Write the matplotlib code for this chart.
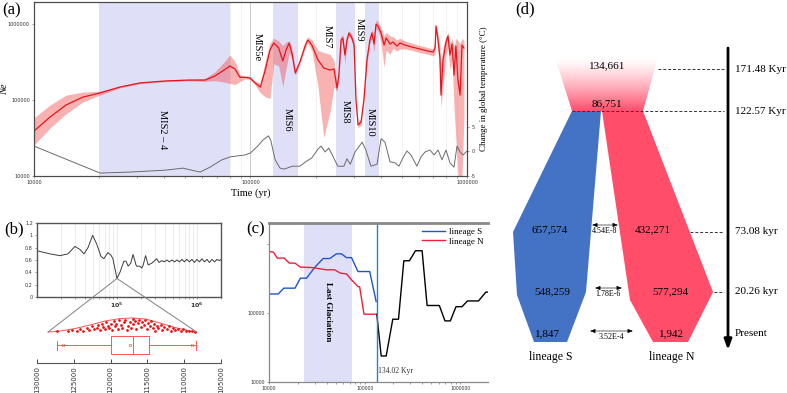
import matplotlib
matplotlib.use('Agg')
import matplotlib.pyplot as plt
import numpy as np
from matplotlib.patches import Polygon, ConnectionPatch
from matplotlib.ticker import NullFormatter

SERIF = 'Liberation Serif'

# ----- (a) Ne through time + global temperature -----------------------------
a_time = [10000, 11860, 14050, 16800, 20200, 24900, 30900, 40300, 51400, 61600,
          68500, 75500, 80400, 84800, 89400, 94300, 99500, 105000, 111000, 117000,
          123000, 128000, 135000, 141000, 146000, 151000, 156000, 161000, 169000, 180000,
          184000, 192000, 205000, 218000, 233000, 243000, 251000, 256000, 262000, 267000,
          273000, 279000, 285000, 294000, 301000, 307000, 314000, 324000, 334000, 345000,
          356000, 364000, 372000, 380000, 388000, 401000, 414000, 423000, 441000, 455000,
          475000, 490000, 517000, 557000, 607000, 661000, 697000, 712000, 719000, 735000,
          750000, 758000, 775000, 800000, 817000, 834000, 853000, 871000, 889000, 908000,
          929000, 948000, 968000]
a_ne = [39100, 59700, 85900, 109000, 124000, 148000, 168000, 178000, 183000, 183000,
        207000, 248000, 280000, 256000, 199000, 199000, 195000, 168000, 148000, 248000,
        455000, 563000, 483000, 326000, 455000, 563000, 391000, 227000, 316000, 546000,
        617000, 529000, 336000, 264000, 248000, 256000, 144000, 213000, 617000, 655000,
        391000, 617000, 762000, 655000, 529000, 100000, 46900, 51300, 100000, 336000,
        617000, 762000, 546000, 1000000, 942000, 762000, 529000, 655000, 546000, 580000,
        513000, 563000, 529000, 498000, 469000, 441000, 428000, 483000, 942000, 617000,
        357000, 116000, 336000, 580000, 695000, 391000, 546000, 213000, 513000, 183000,
        116000, 529000, 483000]
a_ne_lo = [25600, 42800, 65500, 94200, 116000, 144000, 164000, 174000, 179000, 176000,
           180000, 172000, 165000, 160000, 175000, 190000, 186000, 158000, 125000, 110000,
           105000, 300000, 280000, 150000, 260000, 420000, 330000, 210000, 295000, 500000,
           560000, 450000, 150000, 32000, 70000, 150000, 130000, 190000, 540000, 580000,
           300000, 560000, 700000, 600000, 470000, 85000, 43000, 46000, 90000, 300000,
           560000, 650000, 420000, 880000, 800000, 560000, 270000, 450000, 400000, 480000,
           440000, 470000, 470000, 450000, 420000, 400000, 380000, 400000, 800000, 450000,
           200000, 80000, 150000, 400000, 500000, 250000, 350000, 80000, 30000, 10000,
           10000, 10000, 60000]
a_ne_hi = [58000, 85900, 116000, 127000, 131000, 152000, 172000, 182000, 187000, 192000,
           235000, 316000, 391000, 320000, 215000, 208000, 204000, 178000, 165000, 330000,
           560000, 650000, 600000, 520000, 580000, 600000, 450000, 245000, 340000, 600000,
           680000, 620000, 450000, 420000, 400000, 330000, 160000, 240000, 700000, 720000,
           450000, 680000, 820000, 720000, 600000, 120000, 51000, 57000, 112000, 380000,
           680000, 850000, 640000, 1130000, 1080000, 900000, 700000, 780000, 700000, 680000,
           620000, 650000, 600000, 560000, 520000, 490000, 470000, 600000, 1000000, 750000,
           500000, 300000, 500000, 680000, 780000, 560000, 650000, 500000, 650000, 600000,
           550000, 650000, 600000]

temp_time = [10000, 20200, 27700, 40600, 48700, 58500, 65000, 73800, 80600, 94300,
             100000, 108000, 114000, 121000, 124000, 130000, 137000, 143000, 156000, 169000,
             180000, 192000, 205000, 212000, 221000, 230000, 241000, 253000, 270000, 279000,
             289000, 304000, 328000, 341000, 360000, 384000, 401000, 418000, 441000, 465000,
             485000, 506000, 528000, 551000, 587000, 613000, 640000, 675000, 704000, 735000,
             767000, 800000, 834000, 871000, 899000, 929000, 959000, 1000000]
temp_change = [1.1, -4.4, -4.2, -3.8, -3.4, -4.2, -3.2, -1.7, -1.1, -0.7,
               -0.3, 1.1, 2.3, 3.2, 2.3, -1.7, -3.4, -3.6, -3.0, -3.0,
               -2.1, -1.3, 0.5, 1.1, -0.1, 0.7, -1.1, -3.0, -3.0, -1.5,
               -2.6, -0.1, 1.9, 0.3, -3.0, -2.6, 2.6, 1.9, -2.1, -2.3,
               -3.0, -1.3, 0.1, -0.7, -3.0, -1.1, -0.1, 0.3, -0.7, 0.3,
               -1.7, 0.3, -2.3, -3.2, 1.1, -0.1, -0.7, 0.1]

mis_start = [20000, 127000, 248000, 338000]
mis_end = [80000, 165000, 304000, 392000]
mis_labels = ['MIS2 \u2013 4', 'MIS5e', 'MIS6', 'MIS7', 'MIS8', 'MIS9', 'MIS10']

# ----- (b) zoomed split-time distribution ------------------------------------
b_time = [10000, 14500, 19400, 24400, 29800, 34500, 38700, 43400, 49700, 56200,
          63000, 68600, 77000, 84000, 89000, 100000, 109000, 122000, 130000, 138000,
          149000, 159000, 168000, 175000, 193000, 205000, 213000, 228000, 246000, 274000,
          314000, 335000, 365000, 390000, 422000, 452000, 487000, 523000, 562000, 604000,
          649000, 698000, 750000, 806000, 866000, 931000, 1000000, 1075000, 1155000, 1240000,
          1334000, 1433000, 1540000, 1660000, 1780000, 1910000, 2000000]
b_value = [0.75, 0.70, 0.67, 0.70, 0.82, 0.77, 0.70, 0.80, 1.00, 0.85,
           0.66, 0.62, 0.72, 0.68, 0.62, 0.30, 0.40, 0.58, 0.58, 0.50,
           0.55, 0.69, 0.58, 0.50, 0.50, 0.47, 0.52, 0.67, 0.52, 0.55,
           0.62, 0.56, 0.59, 0.57, 0.60, 0.57, 0.60, 0.57, 0.60, 0.57,
           0.61, 0.57, 0.61, 0.57, 0.61, 0.56, 0.61, 0.57, 0.62, 0.57,
           0.61, 0.56, 0.61, 0.57, 0.61, 0.59, 0.61]

dens_years = [128500, 126900, 124800, 122800, 120760, 118700, 117100, 115300, 113300,
              111250, 109200, 108300]
dens_height = [0.534, 0.55, 0.595, 0.655, 0.724, 0.767, 0.776, 0.759, 0.69, 0.612, 0.552, 0.534]

dots_years = [127300, 125800, 125200, 124600, 124100, 123700, 123200, 122900, 122500, 122200,
              121900, 121700, 121500, 121200, 121000, 120800, 120600, 120400, 120200, 120000,
              119800, 119600, 119400, 119200, 119000, 118800, 118600, 118400, 118200, 118000,
              117800, 117600, 117400, 117200, 117000, 116900, 116700, 116500, 116300, 116100,
              115900, 115700, 115500, 115300, 115100, 114900, 114700, 114500, 114300, 114100,
              113900, 113700, 113500, 113200, 113000, 112700, 112400, 112100, 111800, 111500,
              111200, 110900, 110500, 110100, 109700, 109300, 108900, 108500]
dots_height = [0.545, 0.56, 0.57, 0.56, 0.59, 0.56, 0.60, 0.57, 0.63, 0.59,
               0.61, 0.65, 0.57, 0.68, 0.62, 0.58, 0.70, 0.64, 0.60, 0.67,
               0.57, 0.72, 0.63, 0.68, 0.59, 0.74, 0.66, 0.61, 0.70, 0.75,
               0.57, 0.64, 0.71, 0.60, 0.76, 0.67, 0.73, 0.58, 0.69, 0.75,
               0.62, 0.70, 0.66, 0.74, 0.58, 0.69, 0.63, 0.72, 0.60, 0.67,
               0.56, 0.64, 0.60, 0.66, 0.57, 0.62, 0.59, 0.63, 0.56, 0.60,
               0.57, 0.59, 0.56, 0.58, 0.55, 0.56, 0.545, 0.54]

box_stats = dict(med=117000, q1=114780, q3=119950, whislo=108400, whishi=127300,
                 mean=117400, fliers=[108900, 126500])
b_ticks = [130000, 125000, 120000, 115000, 110000, 105000]

# ----- (c) lineage step curves ------------------------------------------------
s_time = [10000, 12500, 14300, 18700, 21300, 24700, 30200, 36800, 43200, 50700,
          57100, 64600, 72900, 85200, 113000, 132000]
s_ne = [188000, 188000, 228000, 228000, 318000, 318000, 459000, 612000, 612000, 716000,
        716000, 631000, 631000, 397000, 397000, 146000]
n_time = [10000, 11100, 12200, 14400, 16300, 18700, 21300, 27800, 34000, 39800,
          48600, 55800, 64600, 72900, 85200, 88600, 98500, 130000]
n_ne = [773000, 758000, 621000, 621000, 525000, 525000, 459000, 454000, 435000, 420000,
        420000, 376000, 367000, 301000, 240000, 240000, 95700, 95700]
anc_time = [134020, 149000, 168000, 197000, 226000, 257000, 294000, 340000, 399000, 450000,
            604000, 692000, 787000, 902000, 1042000, 1191000, 1552000, 1853000, 1950000]
anc_ne = [95700, 23800, 23800, 81000, 81000, 568000, 568000, 793000, 793000, 128000,
          128000, 76600, 76600, 123000, 123000, 149000, 149000, 200000, 200000]
split_time = 134020
glaciation = (23000, 73000)

# ----- (d) demographic model (schematic) ---------------------------------------
d_levels = ['171.48 Kyr', '122.57 Kyr', '73.08 kyr', '20.26 kyr', 'Present']
d_ne_anc = ['134,661', '86,751']
d_ne_S = ['657,574', '548,259', '1,847']
d_ne_N = ['432,271', '577,294', '1,942']
d_mig = ['4.54E-8', '1.78E-6', '3.52E-4']

W, H = 787, 393
fig = plt.figure(figsize=(7.87, 3.93), dpi=100)


def box(l, t, r, b):
    return [l / W, 1 - b / H, (r - l) / W, (b - t) / H]


def tiny_ticks(ax, size=3.5):
    ax.tick_params(which='both', labelsize=size, labelcolor='#333333', length=1.5,
                   width=0.4, pad=1.5, color='#555555')


# ================= (a) =================
ax = fig.add_axes(box(34, 2, 467, 176))
ax.set_xscale('log')
ax.set_yscale('log')
for s, e in zip(mis_start, mis_end):
    ax.axvspan(s, e, color='#dfdff8', lw=0, zorder=1)
ax.grid(which='major', axis='x', color='#c4c4c4', lw=0.6)
ax.grid(which='minor', axis='x', color='#ededed', lw=0.5)
ax.set_axisbelow(True)
ax.fill_between(a_time, a_ne_lo, a_ne_hi, color='#f04848', alpha=0.42, lw=0, zorder=2)
ax.plot(a_time, a_ne, color='#e8141c', lw=0.9, zorder=3)
ax.set_xlim(1e4, 1e6)
ax.set_ylim(1e4, 1.95e6)
ax.set_xticks([1e4, 1e5, 1e6], ['10000', '100000', '1000000'])
ax.xaxis.set_minor_formatter(NullFormatter())
ax.set_yticks([1e4, 1e5, 1e6], ['10000', '100000', '1000000'])
ax.set_yticks([], minor=True)
tiny_ticks(ax)
for sp in ax.spines.values():
    sp.set_color('#4a4a4a')
    sp.set_linewidth(0.8)
ax.set_xlabel('Time (yr)', family=SERIF, fontsize=7.5, labelpad=2)
ax.set_ylabel('Ne', family=SERIF, fontsize=7.5, style='italic')
ax.yaxis.set_label_coords(-0.058, 0.5)

label_x = [39400, 108000, 148000, 226000, 273000, 317000, 356000]
label_y = [40300, 498000, 54500, 675000, 69500, 832000, 51300]
for txt, lx, ly in zip(mis_labels, label_x, label_y):
    ax.text(lx, ly, txt, rotation=270, ha='center', va='center', family=SERIF,
            fontsize=7.5, zorder=5)

ax2 = ax.twinx()
ax2.plot(temp_time, temp_change, color='#6b6b6b', lw=0.7)
ax2.set_ylim(-5, 30.5)
ax2.set_yticks([-5, 0, 5], ['-5', '0', '5'])
tiny_ticks(ax2)
for sp in ax2.spines.values():
    sp.set_color('#4a4a4a')
    sp.set_linewidth(0.8)
ax2.set_ylabel('Change in global temperature (\u00b0C)', family=SERIF, fontsize=6.5,
               labelpad=3)

# ================= (b) =================
bt = fig.add_axes(box(37, 223, 221, 297))
bt.set_xscale('log')
bt.plot(b_time, b_value, color='#3c3c3c', lw=0.7)
bt.set_xlim(1e4, 2e6)
bt.set_ylim(0, 1.2)
bt.grid(which='both', axis='x', color='#e4e4e4', lw=0.5)
bt.set_axisbelow(True)
bt.set_xticks([1e5, 1e6], [r'$\mathbf{10^5}$', r'$\mathbf{10^6}$'])
bt.xaxis.set_minor_formatter(NullFormatter())
bt.set_yticks([0, 0.2, 0.4, 0.6, 0.8, 1.0, 1.2], ['0', '0.2', '0.4', '0.6', '0.8', '1', '1.2'])
tiny_ticks(bt, 3.5)
bt.tick_params(axis='x', labelsize=4.5)
for sp in bt.spines.values():
    sp.set_color('#555555')
    sp.set_linewidth(1.0)

bb = fig.add_axes(box(37, 305, 221, 363))
bb.set_xlim(130000, 105000)
bb.set_ylim(0, 1)
bb.plot(dens_years, dens_height, color='#ff5050', lw=0.7)
bb.scatter(dots_years, dots_height, s=4, color='#ee1111', lw=0, zorder=3)
bb.bxp([box_stats], positions=[0.31], widths=0.31, orientation='horizontal',
       showmeans=True, showfliers=True,
       boxprops=dict(color='#ff5555', lw=0.7),
       medianprops=dict(color='#ff5555', lw=0.7),
       whiskerprops=dict(color='#ff5555', lw=0.7),
       capprops=dict(color='#ff5555', lw=0.7),
       meanprops=dict(marker='s', markersize=2, markerfacecolor='none',
                      markeredgecolor='#ff5555', markeredgewidth=0.5),
       flierprops=dict(marker='x', markersize=2, markeredgecolor='#ff5555',
                       markeredgewidth=0.5))
bb.set_xticks(b_ticks, [str(v) for v in b_ticks], rotation=90)
bb.set_yticks([])
for side in ['top', 'left', 'right']:
    bb.spines[side].set_visible(False)
bb.spines['bottom'].set_color('#555555')
bb.spines['bottom'].set_linewidth(0.8)
bb.tick_params(axis='x', direction='in', length=3, width=0.5, labelsize=5,
               labelcolor='#333333', pad=2)
bb.patch.set_alpha(0)

dip = int(np.argmin(b_value))
for k in [0, -1]:
    con = ConnectionPatch(xyA=(b_time[dip], b_value[dip]), coordsA=bt.transData,
                          xyB=(dens_years[k], dens_height[k]), coordsB=bb.transData,
                          color='#808080', lw=0.7)
    fig.add_artist(con)

# ================= (c) =================
cx = fig.add_axes(box(269, 223, 488, 382))
cx.set_xscale('log')
cx.set_yscale('log')
cx.axvspan(glaciation[0], glaciation[1], color='#dfdff8', lw=0, zorder=0)
cx.plot(s_time, s_ne, color='#1e56c8', lw=1.0, label='lineage S')
cx.plot(n_time, n_ne, color='#f01f3a', lw=1.0, label='lineage N')
cx.plot(anc_time, anc_ne, color='black', lw=1.0)
cx.axvline(split_time, color='#2a80c8', lw=1.0)
cx.set_xlim(1e4, 1.95e6)
cx.set_ylim(1e4, 2e6)
cx.set_xticks([1e4, 1e5, 1e6], ['10000', '100000', '1000000'])
cx.xaxis.set_minor_formatter(NullFormatter())
cx.set_yticks([1e4, 1e5, 1e6], ['10000', '100000', ''])
cx.set_yticks([], minor=True)
tiny_ticks(cx, 3.3)
cx.spines['right'].set_visible(False)
for side in ['left', 'bottom']:
    cx.spines[side].set_color('#888888')
    cx.spines[side].set_linewidth(0.9)
cx.spines['top'].set_color('#888888')
cx.spines['top'].set_linewidth(2.0)
cx.text(np.sqrt(glaciation[0] * glaciation[1]), 1.05e5, 'Last Glaciation', rotation=270,
        ha='center', va='center', family=SERIF, fontsize=6.5, fontweight='bold')
cx.text(split_time * 1.04, 1.25e4, '134.02 Kyr', family=SERIF, fontsize=5.5,
        ha='left', va='bottom', color='#333333')
cx.legend(loc='upper right', frameon=False, prop=dict(family=SERIF, size=6.5),
          handlelength=2.6, borderaxespad=0.1, labelspacing=0.15, handletextpad=0.4)

# ================= (d) =================
dx = fig.add_axes([490 / W, 0, 297 / W, 1])
dx.axis('off')

blue = '#4472c4'
red = '#ff4d6a'
trap = Polygon([(555, 57), (658, 57), (643, 111), (572, 111)], closed=True,
               fc='none', ec='none')
dx.add_patch(trap)
grad = np.zeros((100, 1, 4))
grad[:, 0, :3] = matplotlib.colors.to_rgb(red)
grad[:, 0, 3] = np.linspace(0.0, 1.0, 100) ** 1.3
img = dx.imshow(grad, extent=[555, 658, 111, 57], origin='upper', aspect='auto',
                interpolation='bilinear', zorder=1)
img.set_clip_path(trap)

dx.add_patch(Polygon([(572, 111), (601, 111), (586, 292), (567, 342), (534, 342),
                      (517, 295), (513, 232)], closed=True, fc=blue, ec='none', zorder=2))
dx.add_patch(Polygon([(602, 111), (643, 111), (713, 292), (688, 342), (653, 342),
                      (630, 300)], closed=True, fc=red, ec='none', zorder=2))
dx.set_xlim(490, 787)
dx.set_ylim(393, 0)

level_y = [69, 111, 232, 292, 333]
dash_from = [658, 572, 690, 714]
for yy, x0 in zip(level_y[:4], dash_from):
    dx.plot([x0, 724], [yy, yy], color='#333333', lw=0.7, ls=(0, (3, 2)), zorder=3)
for txt, yy in zip(d_levels, level_y):
    dx.text(735, yy, txt, family=SERIF, fontsize=8, va='center', ha='left')
dx.annotate('', xy=(728, 350), xytext=(728, 48),
            arrowprops=dict(arrowstyle='-|>,head_width=0.22,head_length=0.6', lw=2,
                            color='black', shrinkA=0, shrinkB=0))

for txt, yy in zip(d_ne_anc, [66, 104]):
    dx.text(607, yy, txt, family=SERIF, fontsize=8, ha='center', va='center', zorder=4)
for txt, xx, yy in zip(d_ne_S, [550, 552, 548], [230, 292, 334]):
    dx.text(xx, yy, txt, family=SERIF, fontsize=8, ha='center', va='center', zorder=4)
for txt, xx, yy in zip(d_ne_N, [653, 670, 671], [230, 292, 334]):
    dx.text(xx, yy, txt, family=SERIF, fontsize=8, ha='center', va='center', zorder=4)
dx.text(551, 357, 'lineage S', family=SERIF, fontsize=8.5, ha='center', va='center')
dx.text(672, 357, 'lineage N', family=SERIF, fontsize=8.5, ha='center', va='center')

mig_x0 = [592, 595, 590]
mig_x1 = [618, 622, 633]
mig_y = [225, 288, 331]
for txt, x0, x1, yy in zip(d_mig, mig_x0, mig_x1, mig_y):
    dx.annotate('', xy=(x1, yy), xytext=(x0, yy),
                arrowprops=dict(arrowstyle='<|-|>,head_width=0.12,head_length=0.3',
                                lw=0.5, ls=(0, (1, 1)), color='black',
                                shrinkA=0, shrinkB=0))
    dx.text((x0 + x1) / 2, yy + 6, txt, family=SERIF, fontsize=5.8, ha='center',
            va='center')

# panel letters
for letter, px, py in [('(a)', 12, 10), ('(b)', 14, 229), ('(c)', 256, 229), ('(d)', 525, 9)]:
    fig.text(px / W, 1 - py / H, letter, family=SERIF, fontsize=12, ha='center', va='center')

fig.savefig('out.png', dpi=100)
